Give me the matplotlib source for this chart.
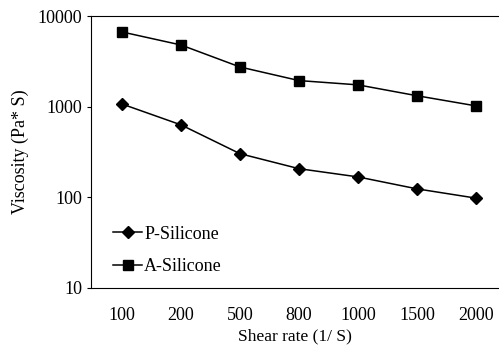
import matplotlib
matplotlib.use("Agg")
import matplotlib.pyplot as plt
from matplotlib.ticker import FixedLocator, FixedFormatter

shear_rate = ["100", "200", "500", "800", "1000", "1500", "2000"]
p_silicone = [1070, 630, 303, 207, 168, 124, 98]
a_silicone = [6670, 4790, 2740, 1940, 1740, 1320, 1020]
y_ticks = [10, 100, 1000, 10000]

plt.rcParams["font.family"] = ["Liberation Serif", "DejaVu Serif"]

fig = plt.figure(figsize=(4.99, 3.47), dpi=100)
ax = fig.add_axes([91 / 499, 1 - 288 / 347, 408 / 499, 272 / 347])

x = range(len(shear_rate))
ax.plot(x, p_silicone, color="black", marker="D", markersize=6, lw=1.1, label="P-Silicone")
ax.plot(x, a_silicone, color="black", marker="s", markersize=7, lw=1.1, label="A-Silicone")

ax.set_yscale("log")
ax.set_ylim(10, 10000)
ax.yaxis.set_major_locator(FixedLocator(y_ticks))
ax.yaxis.set_major_formatter(FixedFormatter([str(v) for v in y_ticks]))
ax.set_xlim(-0.525, 6.39)
ax.set_xticks(list(x))
ax.set_xticklabels(shear_rate)
ax.minorticks_off()
ax.tick_params(axis="both", labelsize=13, direction="out", length=3, color="black")
ax.tick_params(axis="x", length=0, pad=14)
ax.spines["right"].set_visible(False)

ax.set_xlabel("Shear rate (1/ S)", fontsize=12.5, labelpad=3)
ax.set_ylabel("Viscosity (Pa* S)", fontsize=13, labelpad=6)

ax.legend(loc="lower left", bbox_to_anchor=(0.015, -0.012), frameon=False, fontsize=13,
          handlelength=1.6, handletextpad=0.1, labelspacing=0.85)

fig.savefig("out.png", dpi=100)
